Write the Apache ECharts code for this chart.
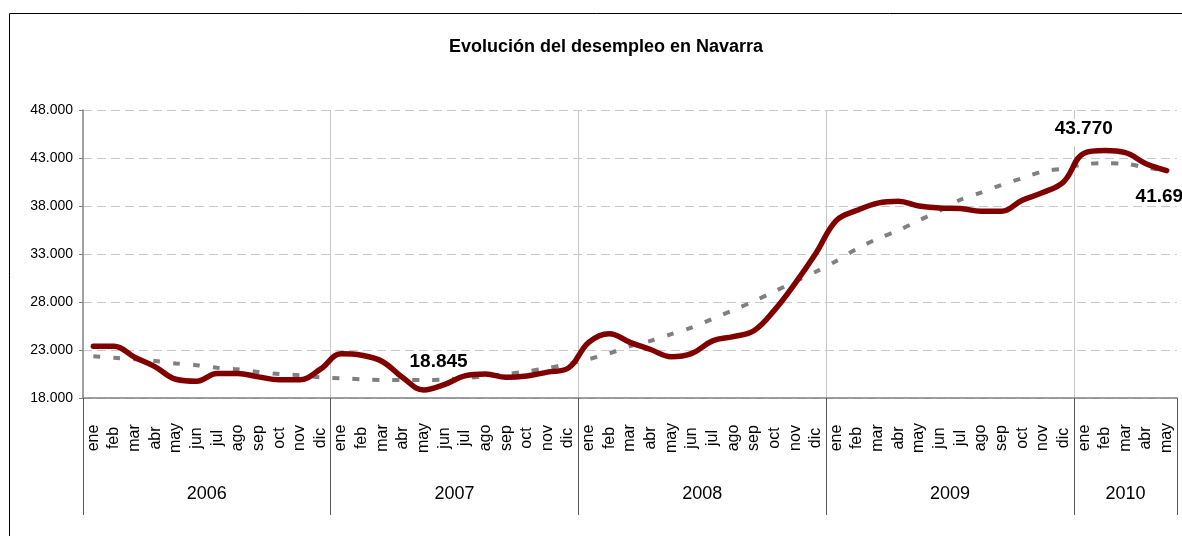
<!DOCTYPE html>
<html>
<head>
<meta charset="utf-8">
<title>Evolución del desempleo en Navarra</title>
<script src="https://cdn.jsdelivr.net/npm/echarts@6/dist/echarts.min.js"></script>
<style>
  html, body { margin: 0; padding: 0; background: #fff; }
  #chart { width: 1182px; height: 536px; }
</style>
</head>
<body>
<div id="chart"></div>
<script>
  // meses y años del eje
  var months = ['ene', 'feb', 'mar', 'abr', 'may', 'jun', 'jul', 'ago', 'sep', 'oct', 'nov', 'dic'];
  var years = ['2006', '2007', '2008', '2009', '2010'];
  var monthsPerYear = [12, 12, 12, 12, 5];

  // paro registrado (línea roja)
  var paro2006 = [23400, 23400, 22250, 21250, 19950, 19750, 20550, 20550, 20200, 19900, 19900, 21000];
  var paro2007 = [22600, 22450, 21800, 20100, 18845, 19400, 20300, 20500, 20150, 20300, 20700, 21100];
  var paro2008 = [23800, 24700, 23800, 23050, 22300, 22650, 23950, 24400, 25000, 27150, 29950, 33050];
  var paro2009 = [36500, 37550, 38300, 38500, 38000, 37800, 37750, 37450, 37450, 38600, 39400, 40500];
  var paro2010 = [43500, 43770, 43550, 42400, 41690];

  // tendencia (línea gris discontinua)
  var tend2006 = [22350, 22200, 22030, 21850, 21600, 21420, 21150, 20990, 20720, 20500, 20380, 20150];
  var tend2007 = [20050, 19950, 19880, 19875, 19875, 19920, 20080, 20270, 20480, 20780, 21110, 21540];
  var tend2008 = [22050, 22650, 23400, 23950, 24650, 25350, 26250, 27150, 28080, 29100, 30150, 31150];
  var tend2009 = [32280, 33550, 34600, 35450, 36500, 37500, 38650, 39400, 40200, 40900, 41600, 41900];
  var tend2010 = [42350, 42450, 42400, 42000, 41700];

  // puntos con etiqueta
  var labelled = ['2007-may', '2010-feb', '2010-may'];

  var fontNormal = "'Liberation Sans', Arial, sans-serif";

  function fmt(v) {
    return String(v).replace(/\B(?=(\d{3})+(?!\d))/g, '.');
  }

  var categories = [];
  var keys = [];
  years.forEach(function (y, i) {
    for (var m = 0; m < monthsPerYear[i]; m++) {
      categories.push(months[m]);
      keys.push(y + '-' + months[m]);
    }
  });
  var paro = [].concat(paro2006, paro2007, paro2008, paro2009, paro2010);
  var tendencia = [].concat(tend2006, tend2007, tend2008, tend2009, tend2010);

  // eje de años: fronteras entre meses (n+1 posiciones)
  var yearBounds = [0];
  var yearCenters = [];
  monthsPerYear.forEach(function (n, i) {
    var start = yearBounds[yearBounds.length - 1];
    yearBounds.push(start + n);
    yearCenters.push(start + n / 2);
  });
  var yearAxisData = [];
  for (var k = 0; k <= categories.length; k++) yearAxisData.push(String(k));

  function yearLabel(idx) {
    for (var i = 0; i < yearCenters.length; i++) {
      if (Math.floor(yearCenters[i]) === idx) return { year: years[i], half: yearCenters[i] !== idx };
    }
    return null;
  }

  var labelStyles = {
    '2007-may': { position: 'top', offset: [15, -13] },
    '2010-feb': { position: 'top', offset: [-21, 1], backgroundColor: '#fff', padding: [0, 2, 8, 2] },
    '2010-may': { position: 'bottom', offset: [-2, 11] }
  };

  var paroData = paro.map(function (v, i) {
    var key = keys[i];
    if (labelled.indexOf(key) === -1) return v;
    return {
      value: v,
      label: Object.assign({
        show: true,
        formatter: function (p) { return fmt(p.value); },
        fontFamily: fontNormal,
        fontWeight: 'bold',
        fontSize: 19,
        color: '#000'
      }, labelStyles[key])
    };
  });

  var myChart = echarts.init(document.getElementById('chart'));
  var option = {
    animation: false,
    backgroundColor: '#fff',
    title: {
      text: 'Evolución del desempleo en Navarra',
      left: 601,
      textAlign: 'center',
      top: 33,
      textStyle: { fontFamily: fontNormal, fontWeight: 'bold', fontSize: 18, color: '#000' }
    },
    graphic: [{
      type: 'rect',
      shape: { x: 9.5, y: 13.5, width: 1300, height: 700 },
      style: { fill: null, stroke: '#000', lineWidth: 1 },
      silent: true,
      z: -1
    }],
    grid: { left: 83, right: 5, top: 110, bottom: 138, containLabel: false },
    xAxis: [{
      type: 'category',
      data: categories,
      boundaryGap: true,
      axisLine: { lineStyle: { color: '#808080', width: 1.5 } },
      axisTick: { interval: 0, length: 59, lineStyle: { color: '#595959' } },
      axisLabel: {
        interval: 0,
        rotate: 90,
        align: 'center',
        verticalAlign: 'middle',
        margin: 40,
        fontFamily: fontNormal,
        fontSize: 16,
        color: '#000'
      },
      splitLine: { show: false }
    }, {
      type: 'category',
      data: yearAxisData,
      position: 'bottom',
      boundaryGap: false,
      axisLine: { show: false },
      axisTick: {
        length: 117,
        interval: function (idx) { return yearBounds.indexOf(idx) !== -1; },
        lineStyle: { color: '#595959' }
      },
      axisLabel: {
        interval: 0,
        margin: 87,
        fontFamily: fontNormal,
        fontSize: 18,
        color: '#000',
        formatter: function (v, idx) {
          var y = yearLabel(idx);
          if (!y) return '';
          return y.half ? '{h|' + y.year + '}' : y.year;
        },
        rich: {
          h: { fontFamily: fontNormal, fontSize: 18, color: '#000', padding: [0, 0, 0, 21] }
        }
      },
      splitLine: {
        show: true,
        interval: function (idx) { return idx > 0 && idx < categories.length && yearBounds.indexOf(idx) !== -1; },
        lineStyle: { color: '#c8c8c8', width: 1 }
      }
    }],
    yAxis: {
      type: 'value',
      min: 18000,
      max: 48000,
      interval: 5000,
      axisLine: { show: true, lineStyle: { color: '#808080', width: 1.5 } },
      axisTick: { show: true, length: 4, lineStyle: { color: '#808080' } },
      axisLabel: {
        margin: 10,
        fontFamily: fontNormal,
        fontSize: 14,
        color: '#000',
        formatter: fmt
      },
      splitLine: { lineStyle: { color: '#c8c8c8', type: [9, 5], width: 1 } }
    },
    series: [{
      name: 'Tendencia',
      type: 'line',
      data: tendencia,
      smooth: 0.3,
      symbol: 'none',
      lineStyle: { color: '#808080', width: 4, type: [7, 13], cap: 'butt' },
      z: 2
    }, {
      name: 'Paro registrado',
      type: 'line',
      data: paroData,
      smooth: 0.4,
      symbol: 'circle',
      symbolSize: 1,
      showSymbol: true,
      showAllSymbol: true,
      itemStyle: { color: 'rgba(0,0,0,0)' },
      lineStyle: { color: '#800000', width: 5.5, cap: 'round' },
      z: 3
    }]
  };
  myChart.setOption(option);
</script>
</body>
</html>
